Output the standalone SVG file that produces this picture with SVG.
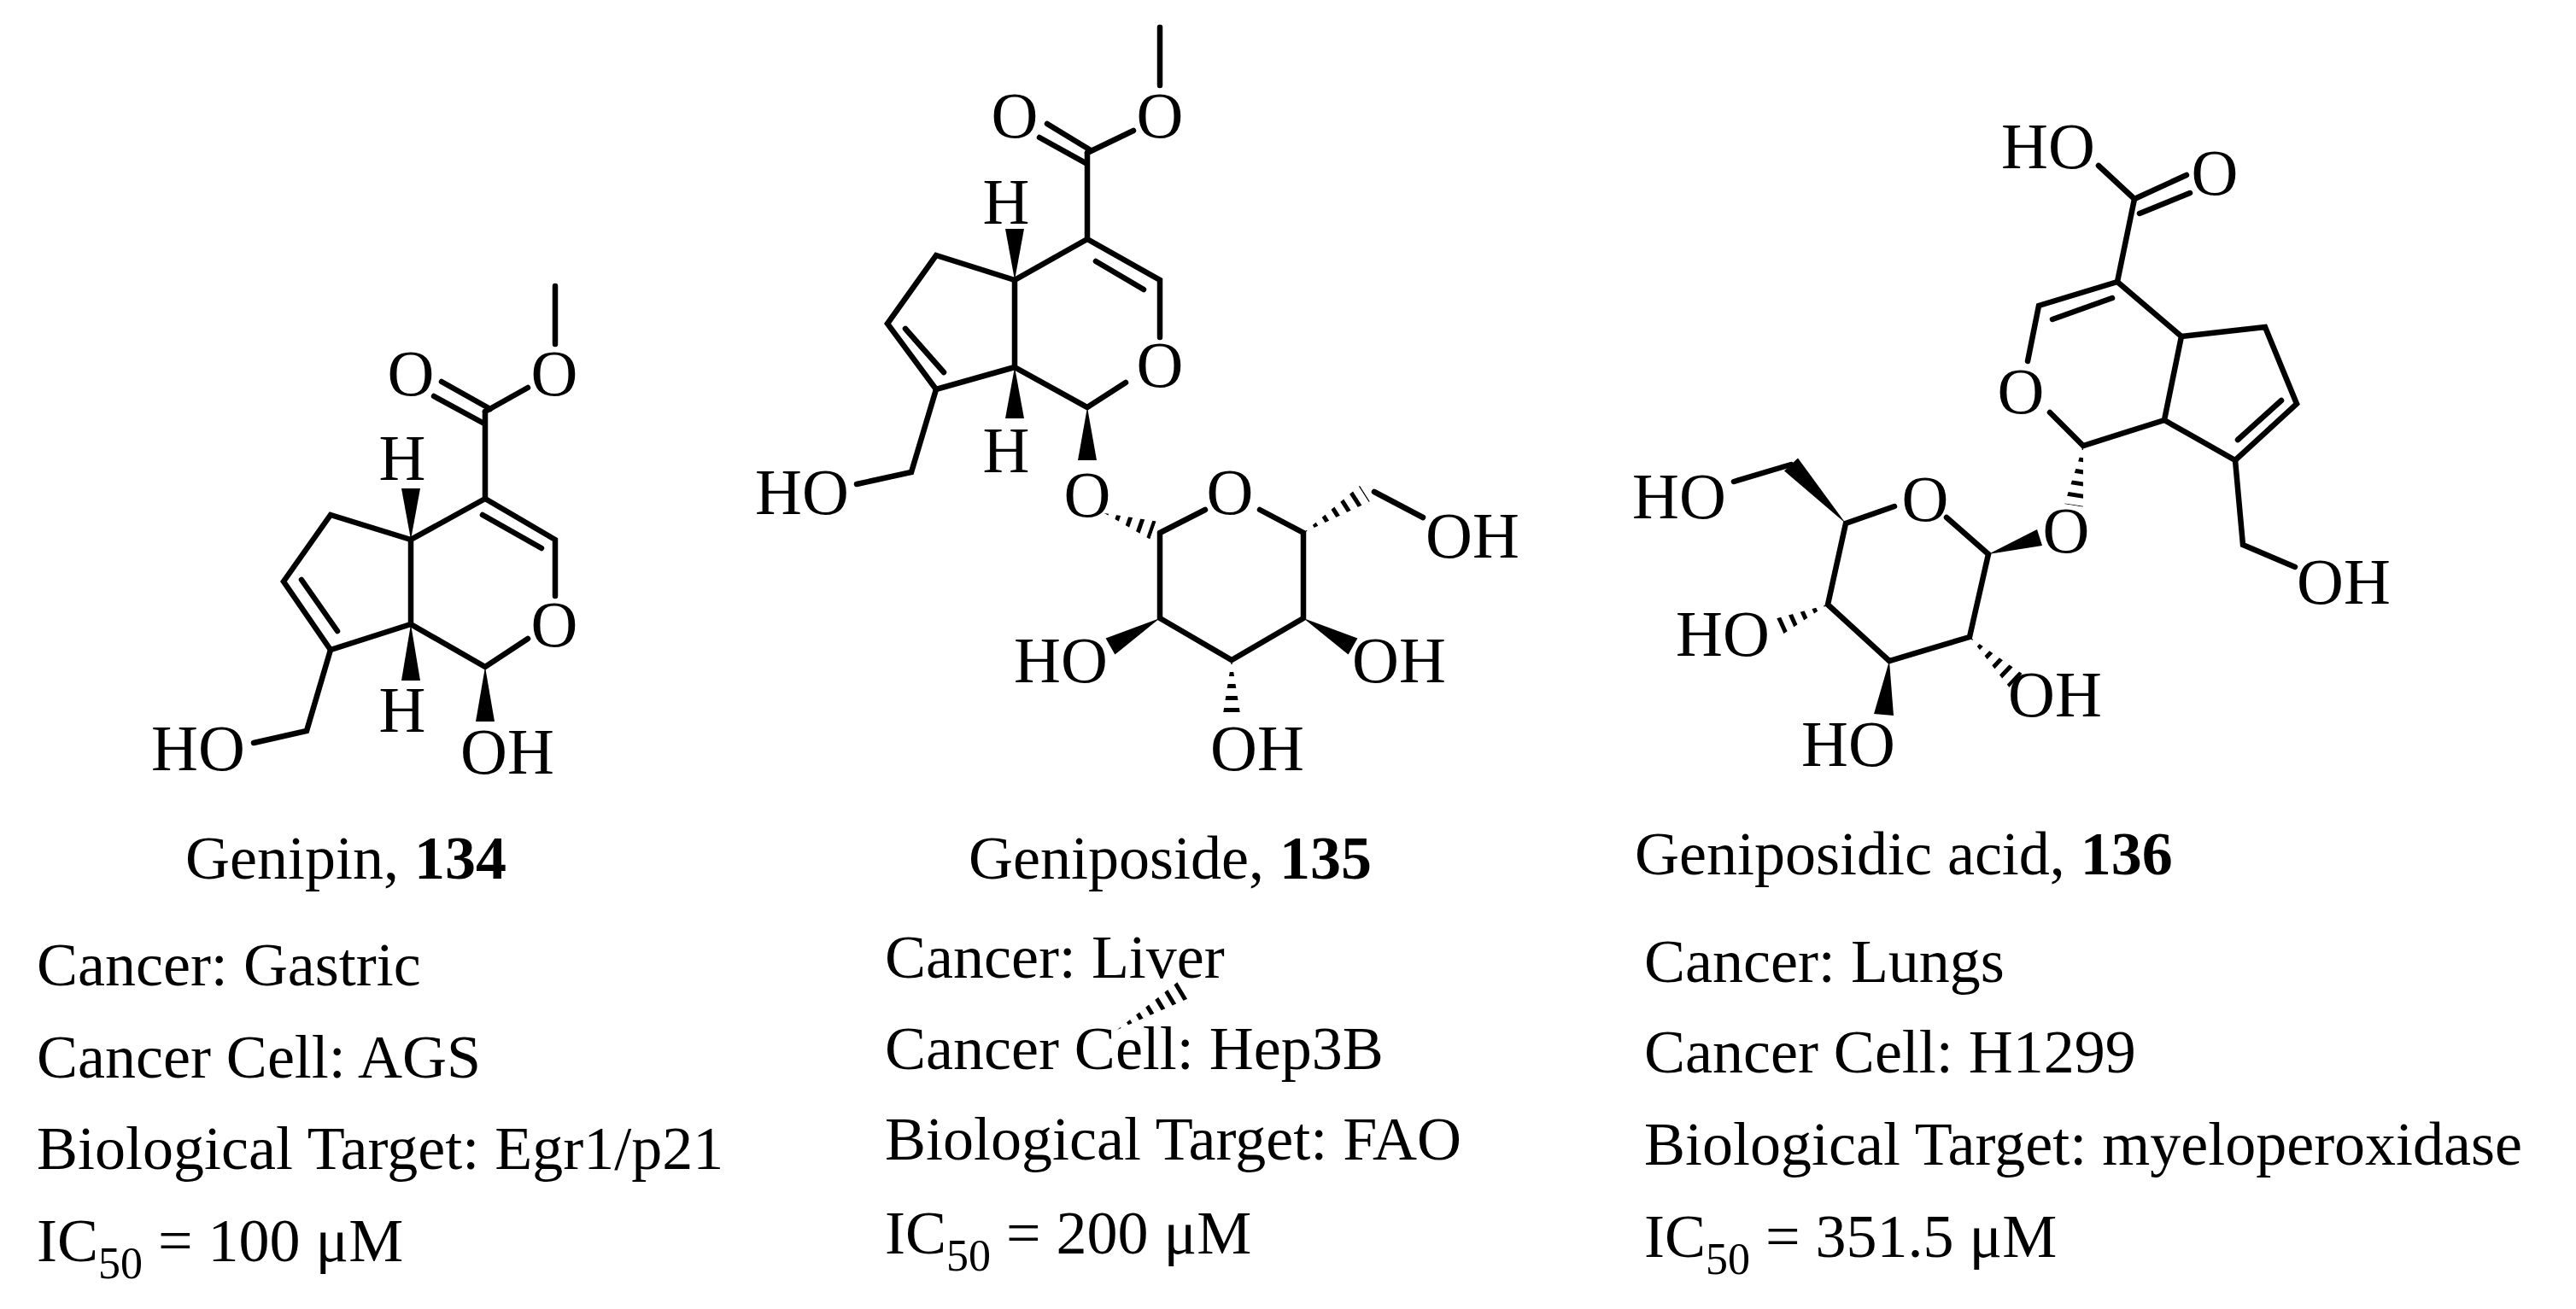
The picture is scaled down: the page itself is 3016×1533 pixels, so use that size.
<svg xmlns="http://www.w3.org/2000/svg" width="3016" height="1533" viewBox="0 0 3016 1533">
<style>
.b{stroke:#000;stroke-width:6.5;fill:none;stroke-linecap:round}
.h{stroke:#000;stroke-width:30;stroke-dasharray:5 9;fill:none}
.w{fill:#000;stroke:none}
.a{font-family:"Liberation Serif",serif;font-size:76px;text-anchor:middle;fill:#000}
.t{font-family:"Liberation Serif",serif;font-size:72px;fill:#000}
.c{font-family:"Liberation Serif",serif;font-size:72px;fill:#000;text-anchor:middle}
</style>
<defs>
<clipPath id="k1" clipPathUnits="userSpaceOnUse"><polygon points="1293,601 1346.3,631.5 1353.7,610.5"/></clipPath>
<clipPath id="k2" clipPathUnits="userSpaceOnUse"><polygon points="1526,624 1603.9,587.3 1592.1,568.7"/></clipPath>
<clipPath id="k3" clipPathUnits="userSpaceOnUse"><polygon points="1442,773 1431,842 1453,842"/></clipPath>
<clipPath id="k4" clipPathUnits="userSpaceOnUse"><polygon points="2439,522 2438.9,593.7 2417.1,590.3"/></clipPath>
<clipPath id="k5" clipPathUnits="userSpaceOnUse"><polygon points="2140,708 2082.5,746 2073.5,726"/></clipPath>
<clipPath id="k6" clipPathUnits="userSpaceOnUse"><polygon points="2306,746 2352.4,805 2367.6,789"/></clipPath>
<clipPath id="k7" clipPathUnits="userSpaceOnUse"><polygon points="1308,1206 1392,1169 1380,1149"/></clipPath>
</defs>
<rect width="3016" height="1533" fill="#fff"/>

<g id="genipin">
<g class="b">
<path d="M650,335 L650,403"/>
<path d="M618,454 L568,482"/>
<path d="M517,447 L574,479 M508,464 L565,495"/>
<path d="M568,482 L568,584 L650,632 L650,698"/>
<path d="M565,603 L634,642"/>
<path d="M618,748 L568,781 L481,731 L481,632 L568,584"/>
<path d="M481,632 L387,603 L332,681 L387,761 L481,731"/>
<path d="M353,679 L395,739"/>
<path d="M387,761 L359,856 L297,870"/>
</g>
<polygon class="w" points="481,632 470,572 492,572"/>
<polygon class="w" points="481,731 470,797 492,797"/>
<polygon class="w" points="568,781 557,845 579,845"/>
<text class="a" x="481" y="463">O</text>
<text class="a" x="649" y="463">O</text>
<text class="a" x="649" y="757">O</text>
<text class="a" x="471" y="562">H</text>
<text class="a" x="471" y="857">H</text>
<text class="a" x="232" y="902">HO</text>
<text class="a" x="594" y="906">OH</text>
</g>

<g id="geniposide">
<g class="b">
<path d="M1358,32 L1358,100"/>
<path d="M1327,153 L1273,179"/>
<path d="M1226,145 L1277,176 M1217,161 L1271,191"/>
<path d="M1273,179 L1273,280 L1358,328 L1358,395"/>
<path d="M1283,306 L1339,339"/>
<path d="M1318,448 L1273,477 L1188,430 L1188,328 L1273,280"/>
<path d="M1188,328 L1096,299 L1039,379 L1096,456 L1188,430"/>
<path d="M1060,385 L1105,436"/>
<path d="M1096,456 L1067,553 L1003,567"/>
<path d="M1358,624 L1411,597 M1475,597 L1526,624 L1526,724 L1442,773 L1358,724 L1358,624"/>
<path d="M1609,576 L1666,606"/>
</g>
<polygon class="w" points="1188,328 1177,268 1199,268"/>
<polygon class="w" points="1188,430 1177,490 1199,490"/>
<polygon class="w" points="1273,477 1262,539 1284,539"/>
<polygon class="w" points="1358,724 1305.4,766.6 1294.6,747.4"/>
<polygon class="w" points="1526,724 1578.6,766.6 1589.4,747.4"/>
<line class="h" x1="1293" y1="601" x2="1350" y2="621" clip-path="url(#k1)"/>
<line class="h" x1="1526" y1="624" x2="1598" y2="578" clip-path="url(#k2)"/>
<line class="h" x1="1442" y1="773" x2="1442" y2="842" clip-path="url(#k3)"/>
<text class="a" x="1188" y="161">O</text>
<text class="a" x="1358" y="161">O</text>
<text class="a" x="1358" y="453">O</text>
<text class="a" x="1178" y="262">H</text>
<text class="a" x="1178" y="553">H</text>
<text class="a" x="939" y="602">HO</text>
<text class="a" x="1273" y="605">O</text>
<text class="a" x="1440" y="602">O</text>
<text class="a" x="1724" y="653">OH</text>
<text class="a" x="1242" y="799">HO</text>
<text class="a" x="1638" y="799">OH</text>
<text class="a" x="1472" y="902">OH</text>
</g>

<g id="geniposidic-acid">
<g class="b">
<path d="M2457,194 L2499,233"/>
<path d="M2499,233 L2560,205 M2505,250 L2564,226"/>
<path d="M2499,233 L2479,330 L2387,358 L2374,423"/>
<path d="M2473,349 L2403,374"/>
<path d="M2400,483 L2439,522 L2534,492 L2554,394 L2479,330"/>
<path d="M2554,394 L2652,383 L2689,473 L2617,539 L2534,492"/>
<path d="M2671,469 L2620,515"/>
<path d="M2617,539 L2626,638 L2687,664"/>
<path d="M2328,649 L2279,606 M2218,593 L2161,613 L2140,708 L2212,774 L2306,746 L2328,649"/>
<path d="M2097,544 L2030,564"/>
</g>
<polygon class="w" points="2328,649 2391,639 2385,620"/>
<polygon class="w" points="2161,613 2105,536.5 2089,551.5"/>
<polygon class="w" points="2212,774 2194,836 2217,838"/>
<line class="h" x1="2439" y1="522" x2="2428" y2="592" clip-path="url(#k4)"/>
<line class="h" x1="2140" y1="708" x2="2078" y2="736" clip-path="url(#k5)"/>
<line class="h" x1="2306" y1="746" x2="2360" y2="797" clip-path="url(#k6)"/>
<text class="a" x="2398" y="197">HO</text>
<text class="a" x="2593" y="228">O</text>
<text class="a" x="2366" y="484">O</text>
<text class="a" x="2419" y="647">O</text>
<text class="a" x="2254" y="610">O</text>
<text class="a" x="1966" y="607">HO</text>
<text class="a" x="2017" y="768">HO</text>
<text class="a" x="2164" y="897">HO</text>
<text class="a" x="2406" y="839">OH</text>
<text class="a" x="2744" y="707">OH</text>
</g>

<g id="artifact">
<line class="h" x1="1308" y1="1206" x2="1386" y2="1159" clip-path="url(#k7)"/>
</g>

<g id="caption-134">
<text class="c" x="405" y="1029">Genipin, <tspan font-weight="bold">134</tspan></text>
<text class="t" x="43" y="1154">Cancer: Gastric</text>
<text class="t" x="43" y="1262">Cancer Cell: AGS</text>
<text class="t" x="43" y="1369">Biological Target: Egr1/p21</text>
<text class="t" x="43" y="1477">IC<tspan font-size="52" dy="20">50</tspan><tspan dy="-20"> = 100 μM</tspan></text>
</g>
<g id="caption-135">
<text class="c" x="1370" y="1029">Geniposide, <tspan font-weight="bold">135</tspan></text>
<text class="t" x="1036" y="1145">Cancer: Liver</text>
<text class="t" x="1036" y="1252">Cancer Cell: Hep3B</text>
<text class="t" x="1036" y="1358">Biological Target: FAO</text>
<text class="t" x="1036" y="1468">IC<tspan font-size="52" dy="20">50</tspan><tspan dy="-20"> = 200 μM</tspan></text>
</g>
<g id="caption-136">
<text class="t" x="1914" y="1024">Geniposidic acid, <tspan font-weight="bold">136</tspan></text>
<text class="t" x="1925" y="1150">Cancer: Lungs</text>
<text class="t" x="1925" y="1256">Cancer Cell: H1299</text>
<text class="t" x="1925" y="1364">Biological Target: myeloperoxidase</text>
<text class="t" x="1925" y="1472">IC<tspan font-size="52" dy="20">50</tspan><tspan dy="-20"> = 351.5 μM</tspan></text>
</g>
</svg>
